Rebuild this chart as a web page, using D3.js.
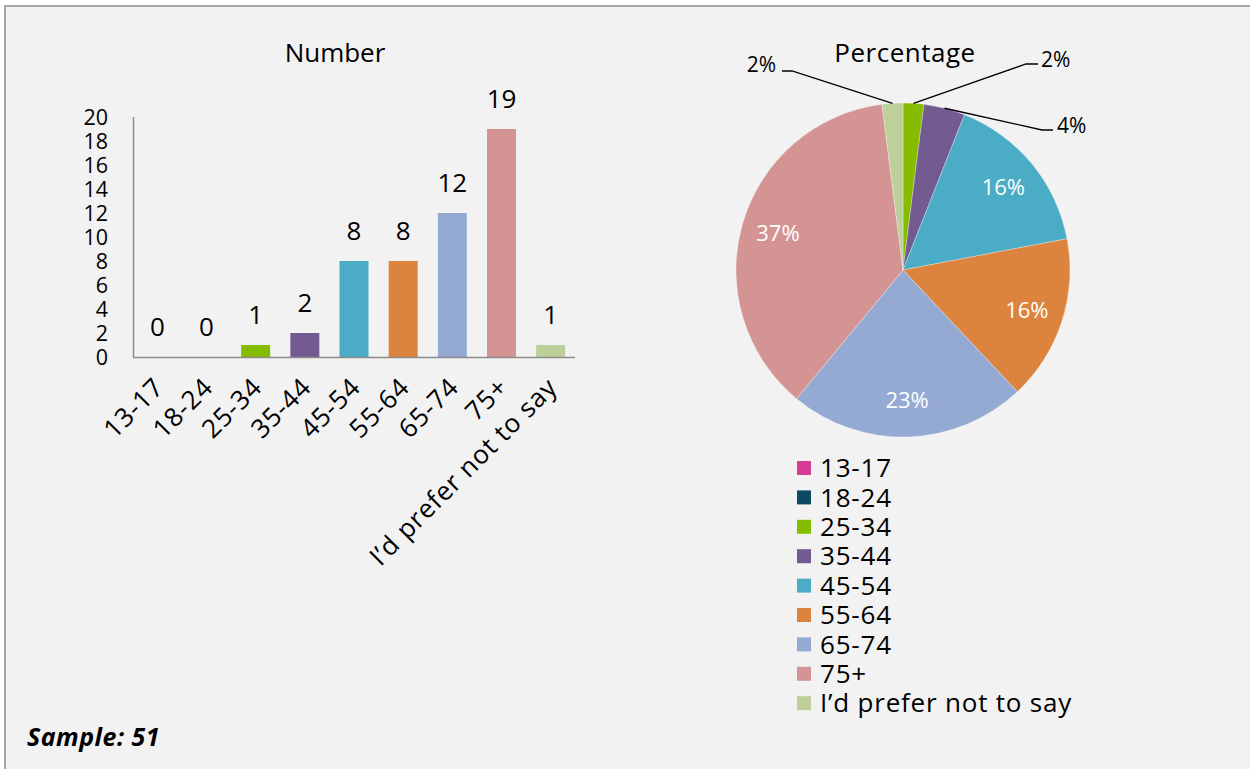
<!DOCTYPE html>
<html>
<head>
<meta charset="utf-8">
<script src="https://cdn.jsdelivr.net/npm/d3@7"></script>
<style>
  html, body { margin: 0; padding: 0; background: #ffffff; }
  svg { display: block; font-family: "Open Sans", sans-serif; }
</style>
</head>
<body>
<svg id="chart" width="1250" height="769"></svg>
<script>
// Age groups and respondent counts
const categories = ["13-17", "18-24", "25-34", "35-44", "45-54", "55-64", "65-74", "75+", "I\u2019d prefer not to say"];
const counts = [0, 0, 1, 2, 8, 8, 12, 19, 1];
const percentages = [0, 0, 2, 4, 16, 16, 23, 37, 2];
const colors = ["#d63c97", "#0b4a62", "#86bc00", "#735a91", "#4bacc6", "#dc843d", "#95aad3", "#d49494", "#bdd09a"];
const yTicks = [0, 2, 4, 6, 8, 10, 12, 14, 16, 18, 20];
const sampleSize = 51;

const svg = d3.select("#chart");

// Panel background and frame
svg.append("rect")
  .attr("x", 5).attr("y", 6)
  .attr("width", 1270).attr("height", 800)
  .attr("fill", "#f2f2f2")
  .attr("stroke", "#a6a6a6")
  .attr("stroke-width", 2);

// ---------- Bar chart: Number ----------
const x = d3.scaleBand().domain(categories).range([133, 575]).paddingInner(0.41).paddingOuter(0.2);
const y = d3.scaleLinear().domain([0, 20]).range([357, 117]);

svg.append("text")
  .attr("x", 335).attr("y", 62)
  .attr("text-anchor", "middle")
  .attr("font-size", 26)
  .attr("fill", "#000")
  .text("Number");

// y axis
const yAxis = d3.axisLeft(y).tickValues(yTicks).tickSize(0).tickPadding(0);
const yg = svg.append("g").attr("transform", "translate(108,0)").call(yAxis);
yg.select(".domain").remove();
yg.selectAll("text")
  .attr("font-size", 21.5)
  .attr("fill", "#000")
  .attr("font-family", "Open Sans, sans-serif")
  .attr("dy", "0.35em");

svg.append("line")
  .attr("x1", 133.5).attr("x2", 133.5)
  .attr("y1", y(20)).attr("y2", y(0))
  .attr("stroke", "#8c8c8c").attr("stroke-width", 1.5);

// bars
svg.append("g").selectAll("rect")
  .data(categories)
  .join("rect")
  .attr("x", d => x(d))
  .attr("width", x.bandwidth())
  .attr("y", (d, i) => y(counts[i]))
  .attr("height", (d, i) => y(0) - y(counts[i]))
  .attr("fill", (d, i) => colors[i]);

// x axis line
svg.append("line")
  .attr("x1", 133).attr("x2", 575)
  .attr("y1", 357.5).attr("y2", 357.5)
  .attr("stroke", "#8c8c8c").attr("stroke-width", 1.5);

// value labels
svg.append("g").selectAll("text")
  .data(categories)
  .join("text")
  .attr("x", d => x(d) + x.bandwidth() / 2)
  .attr("y", (d, i) => y(counts[i]) - 21)
  .attr("text-anchor", "middle")
  .attr("font-size", 26)
  .attr("fill", "#000")
  .text((d, i) => counts[i]);

// rotated category labels
svg.append("g").selectAll("text")
  .data(categories)
  .join("text")
  .attr("transform", d => `translate(${x(d) + x.bandwidth() / 2 + 8},${389}) rotate(-45)`)
  .attr("text-anchor", "end")
  .attr("font-size", 26)
  .attr("letter-spacing", 0.8)
  .attr("fill", "#000")
  .text(d => d);

// ---------- Pie chart: Percentage ----------
const cx = 903, cy = 270, r = 167;

svg.append("text")
  .attr("x", 905).attr("y", 62)
  .attr("text-anchor", "middle")
  .attr("font-size", 26)
  .attr("letter-spacing", 0.5)
  .attr("fill", "#000")
  .text("Percentage");

const pie = d3.pie().sort(null).value(d => d)(percentages);
const arc = d3.arc().innerRadius(0).outerRadius(r);
const labelArc = d3.arc().innerRadius(r * 0.78).outerRadius(r * 0.78);

const pg = svg.append("g").attr("transform", `translate(${cx},${cy})`);
pg.selectAll("path")
  .data(pie)
  .join("path")
  .attr("d", arc)
  .attr("fill", (d, i) => colors[i])
  .attr("stroke", "#ffffff")
  .attr("stroke-opacity", 0.5)
  .attr("stroke-width", 0.6);

// inside labels for the larger slices
pg.selectAll("text.inner")
  .data(pie.filter(d => d.data >= 10))
  .join("text")
  .attr("class", "inner")
  .attr("transform", d => `translate(${labelArc.centroid(d)})`)
  .attr("text-anchor", "middle")
  .attr("dy", "0.35em")
  .attr("font-size", 22)
  .attr("fill", "#ffffff")
  .text(d => d.data + "%");

// outside labels with leader lines for the small slices
const leaders = [
  { idx: 8, elbow: [792 - cx, 71 - cy], end: [782 - cx, 71 - cy], anchor: "end", tx: 776 - cx, ty: 72 - cy },
  { idx: 2, elbow: [1026 - cx, 64 - cy], end: [1038 - cx, 64 - cy], anchor: "start", tx: 1041 - cx, ty: 67 - cy },
  { idx: 3, elbow: [1042 - cx, 130 - cy], end: [1053 - cx, 130 - cy], anchor: "start", tx: 1057 - cx, ty: 133 - cy }
];
leaders.forEach(l => {
  const s = pie[l.idx];
  const a = (s.startAngle + s.endAngle) / 2;
  const p0 = [Math.sin(a) * r, -Math.cos(a) * r];
  pg.append("polyline")
    .attr("points", [p0, l.elbow, l.end].map(p => p.join(",")).join(" "))
    .attr("fill", "none")
    .attr("stroke", "#000")
    .attr("stroke-width", 1.3);
  pg.append("text")
    .attr("x", l.tx).attr("y", l.ty)
    .attr("text-anchor", l.anchor)
    .attr("font-size", 21)
    .attr("fill", "#000")
    .text(s.data + "%");
});

// legend
const lg = svg.append("g").attr("transform", "translate(797,468)");
const rows = lg.selectAll("g")
  .data(categories)
  .join("g")
  .attr("transform", (d, i) => `translate(0,${i * 29.4})`);
rows.append("rect")
  .attr("x", 0).attr("y", -7)
  .attr("width", 14).attr("height", 14)
  .attr("fill", (d, i) => colors[i]);
rows.append("text")
  .attr("x", 23).attr("y", 0)
  .attr("dy", "0.35em")
  .attr("font-size", 26)
  .attr("letter-spacing", 0.8)
  .attr("fill", "#000")
  .text(d => d);

// sample note
svg.append("text")
  .attr("x", 27).attr("y", 746)
  .attr("font-size", 25)
  .attr("font-weight", "bold")
  .attr("font-style", "italic")
  .attr("letter-spacing", 0.5)
  .attr("fill", "#000")
  .text("Sample: " + sampleSize);
</script>
</body>
</html>
